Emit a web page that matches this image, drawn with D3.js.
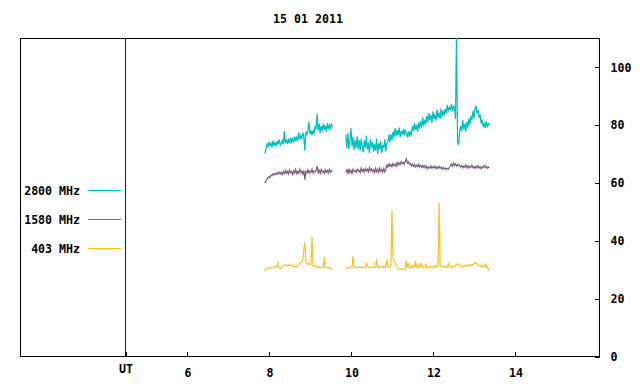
<!DOCTYPE html>
<html>
<head>
<meta charset="utf-8">
<script src="https://cdn.jsdelivr.net/npm/d3@7"></script>
<style>
  html, body { margin: 0; padding: 0; background: #fff; }
  svg text { font-family: "DejaVu Sans Mono", "Liberation Mono", monospace; font-weight: bold; font-size: 11.6px; fill: #000; }
</style>
</head>
<body>
<svg id="chart" width="640" height="384"></svg>
<script>
// ---- data ----
const title = "15 01 2011";
const seriesNames = ["2800 MHz", "1580 MHz", "403 MHz"];
const seriesColors = ["#00c0c0", "#7f6080", "#ffc020"];
const xTickValues = [4.49, 6, 8, 10, 12, 14];
const xTickLabels = ["UT", "6", "8", "10", "12", "14"];
const yTickValues = [0, 20, 40, 60, 80, 100];
const utMarker = 4.49;

// segments (hours UT): start, step
const seg1Start = 7.9, seg2Start = 9.875, sampleStep = 0.025;

const f2800a = [70.0,71.5,73.2,72.4,74.1,72.8,73.6,72.2,74.5,73.0,73.8,72.6,74.4,73.2,74.9,72.9,73.7,74.6,73.1,77.8,
  73.5,75.0,73.4,74.8,73.6,75.5,74.0,75.2,73.8,76.0,74.4,75.6,74.3,77.4,74.9,76.2,75.0,77.3,75.8,71.0,
  77.6,76.4,78.2,81.0,76.8,78.0,76.4,77.9,77.0,79.5,78.4,83.7,78.0,80.2,77.2,79.6,77.8,80.4,78.2,79.8,
  77.6,80.6,78.4,79.9,78.8,80.2,79.4];
const f2800b = [76.5,72.0,77.0,71.5,75.0,78.8,
  72.5,75.8,71.2,74.6,72.0,76.0,71.6,74.8,
  71.0,75.2,72.4,70.4,74.6,72.0,76.2,71.4,73.8,70.2,75.0,72.2,74.0,
  70.6,73.4,71.0,75.2,69.8,73.6,71.4,74.4,70.2,73.0,71.8,75.0,70.8,73.6,
  74.2,76.6,73.9,76.8,74.6,
  77.6,75.6,78.8,76.0,78.2,76.4,79.0,75.8,77.8,76.6,78.6,76.2,78.4,77.0,
  76.0,77.8,75.8,77.4,76.6,
  79.6,77.8,80.6,78.2,80.0,77.6,80.8,78.6,
  81.2,79.0,82.6,79.6,81.8,80.2,83.0,
  81.0,84.0,81.6,83.4,80.6,84.6,82.0,83.6,81.4,85.2,82.4,84.2,82.0,85.6,82.8,84.6,83.6,
  85.4,84.0,86.8,84.6,86.0,85.0,87.2,84.6,86.4,85.8,
  82.0,112.0,74.0,73.0,77.5,
  79.5,77.8,81.6,78.4,80.2,77.6,81.0,79.0,82.2,80.0,
  83.0,81.6,84.8,82.2,85.6,86.6,83.8,85.2,82.4,83.6,
  80.4,81.8,79.2,80.6,78.8,81.2,79.4,80.4,79.8];

const f1580a = [59.8,60.6,61.0,61.6,62.0,61.8,62.6,62.4,63.0,62.6,63.2,62.8,63.4,62.9,63.6,63.0,63.5,62.7,63.8,63.1,
  64.2,63.2,63.9,63.0,64.4,63.4,63.8,62.8,64.0,63.3,64.5,63.1,63.9,63.2,64.6,63.5,63.9,62.9,64.2,61.0,
  63.8,63.4,64.4,63.2,64.0,63.5,64.6,63.3,63.9,63.6,64.2,65.7,63.4,64.3,63.2,64.5,63.6,64.0,63.1,64.4,
  63.5,64.2,63.3,64.6,63.6,64.1,63.8];
const f1580b = [63.6,64.4,63.0,64.8,63.4,64.2,63.2,64.6,63.8,64.1,
  63.5,64.7,63.9,64.3,63.4,65.0,63.9,64.5,63.6,64.8,
  64.0,64.6,63.7,65.2,64.1,64.7,63.8,64.4,63.4,64.9,
  63.7,64.6,63.5,65.0,63.9,64.5,63.6,64.8,63.7,64.6,
  66.0,65.4,66.4,65.6,66.2,65.5,66.6,65.8,66.3,65.6,66.9,66.0,
  66.8,66.2,67.2,66.5,67.0,66.4,67.4,68.2,66.8,67.2,66.3,
  66.6,65.8,66.4,65.6,66.2,65.4,66.0,65.5,66.3,65.4,65.9,65.2,66.0,65.3,65.8,
  65.0,65.6,64.8,65.4,65.0,65.8,64.9,65.5,65.1,65.7,64.8,65.4,64.9,65.6,65.0,65.3,64.6,65.2,64.7,
  65.0,64.5,64.9,64.6,65.3,
  65.8,66.4,65.6,66.8,65.9,66.5,65.7,66.2,65.8,66.0,
  65.4,65.9,65.1,65.7,65.3,66.1,65.2,65.8,65.0,65.6,65.3,66.0,65.1,65.5,
  64.9,65.7,65.2,65.8,65.0,65.5,64.8,65.4,65.1,65.9,65.2,65.6,64.9,65.4,65.0];

const f403a = [29.4,29.8,30.2,30.4,30.3,30.6,30.4,30.7,30.6,30.8,30.5,31.2,31.0,32.2,30.6,30.3,30.4,30.8,31.2,31.4,
  31.6,31.3,31.5,31.2,31.6,31.4,31.2,31.5,31.3,30.9,31.0,30.8,31.1,31.6,32.0,32.4,32.6,33.2,36.8,39.2,
  32.6,32.2,31.8,32.0,31.6,31.8,41.3,31.4,31.0,31.2,30.8,31.0,30.6,30.7,30.5,30.8,30.6,30.7,34.2,30.8,
  30.6,30.4,30.7,30.5,30.3,30.1,29.9];
const f403b = [30.1,30.4,30.6,30.5,30.7,30.6,30.8,34.6,30.6,30.7,30.5,30.7,30.6,30.8,30.6,30.7,30.5,30.7,30.6,30.8,
  32.3,30.7,30.6,30.8,30.6,30.7,30.9,30.6,30.7,30.8,33.5,30.7,30.9,30.6,30.8,30.7,30.9,30.6,30.8,30.7,
  33.5,30.8,30.6,30.9,31.2,50.2,33.9,33.2,32.4,31.6,30.8,30.3,30.1,30.0,30.1,30.0,30.1,30.0,30.2,32.9,
  30.6,32.1,30.4,30.8,30.5,31.2,30.6,31.0,32.9,30.8,31.4,30.6,31.0,32.3,30.7,31.2,30.6,30.9,31.7,30.5,
  30.8,30.6,31.0,30.7,30.9,30.6,31.1,30.8,31.3,30.9,31.4,53.0,31.3,31.0,30.8,31.0,30.7,30.9,30.6,30.8,
  32.0,30.8,30.7,30.9,30.6,30.8,31.0,31.2,31.6,31.9,31.5,31.2,31.0,30.8,31.1,30.9,31.3,31.0,31.4,31.1,
  31.5,31.2,31.6,31.3,31.7,31.9,32.2,32.4,31.8,31.5,31.2,31.4,31.0,31.2,30.9,31.1,30.8,31.8,30.6,30.1,
  29.5];

// ---- layout ----
const svg = d3.select("#chart");
const L = 20, R = 599, T = 38, B = 356;

const x = d3.scaleLinear().domain([1.927, 16.05]).range([L, R]);
const y = d3.scaleLinear().domain([0, 110]).range([B, T]);

svg.append("defs").append("clipPath").attr("id", "clip")
  .append("rect").attr("x", L).attr("y", T).attr("width", R - L).attr("height", B - T);

// title
svg.append("text").attr("x", 308).attr("y", 23).attr("text-anchor", "middle").text(title);

// frame
svg.append("rect").attr("x", L + 0.5).attr("y", T + 0.5).attr("width", R - L).attr("height", B - T)
  .attr("fill", "none").attr("stroke", "#000").attr("stroke-width", 1).attr("shape-rendering", "crispEdges");

// bottom axis (ticks inward)
const xAxis = d3.axisBottom(x).tickValues(xTickValues)
  .tickFormat((d, i) => xTickLabels[i]).tickSizeInner(-5).tickSizeOuter(0).tickPadding(12);
const gx = svg.append("g").attr("transform", `translate(0.5,${B + 0.5})`).call(xAxis);
gx.select(".domain").remove();
gx.selectAll("line").attr("stroke", "#000").attr("shape-rendering", "crispEdges");
gx.selectAll("text").attr("font-size", null).attr("font-family", null)
  .attr("dy", (d, i) => i === 0 ? "0.35em" : "0.71em");

// right axis (ticks inward)
const yAxis = d3.axisRight(y).tickValues(yTickValues).tickFormat(d3.format("d"))
  .tickSizeInner(-5).tickSizeOuter(0).tickPadding(11);
const gy = svg.append("g").attr("transform", `translate(${R + 0.5},0.5)`).call(yAxis);
gy.select(".domain").remove();
gy.selectAll("line").attr("stroke", "#000").attr("shape-rendering", "crispEdges");
gy.selectAll("text").attr("font-size", null).attr("font-family", null);

// UT marker line
svg.append("line").attr("x1", Math.round(x(utMarker)) + 0.5).attr("x2", Math.round(x(utMarker)) + 0.5)
  .attr("y1", T).attr("y2", B).attr("stroke", "#600000").attr("stroke-width", 1)
  .attr("shape-rendering", "crispEdges");

// data lines
const toPts = (arr, start) => arr.map((v, i) => [start + i * sampleStep, v]);
const series = [
  [toPts(f2800a, seg1Start), toPts(f2800b, seg2Start)],
  [toPts(f1580a, seg1Start), toPts(f1580b, seg2Start)],
  [toPts(f403a, seg1Start), toPts(f403b, seg2Start)]
];
const line = d3.line().x(d => x(d[0])).y(d => y(d[1]));
const gData = svg.append("g").attr("clip-path", "url(#clip)");
series.forEach((segs, si) => {
  segs.forEach(seg => {
    gData.append("path").datum(seg).attr("d", line)
      .attr("fill", "none").attr("stroke", seriesColors[si]).attr("stroke-width", 1.25);
  });
});

// legend
const legendY = [190, 219, 248];
seriesNames.forEach((name, i) => {
  svg.append("text").attr("x", 80).attr("y", legendY[i] + 4.5).attr("text-anchor", "end").text(name);
  svg.append("line").attr("x1", 88).attr("x2", 121).attr("y1", legendY[i] + 0.5).attr("y2", legendY[i] + 0.5)
    .attr("stroke", seriesColors[i]).attr("stroke-width", 1).attr("shape-rendering", "crispEdges");
});
</script>
</body>
</html>
